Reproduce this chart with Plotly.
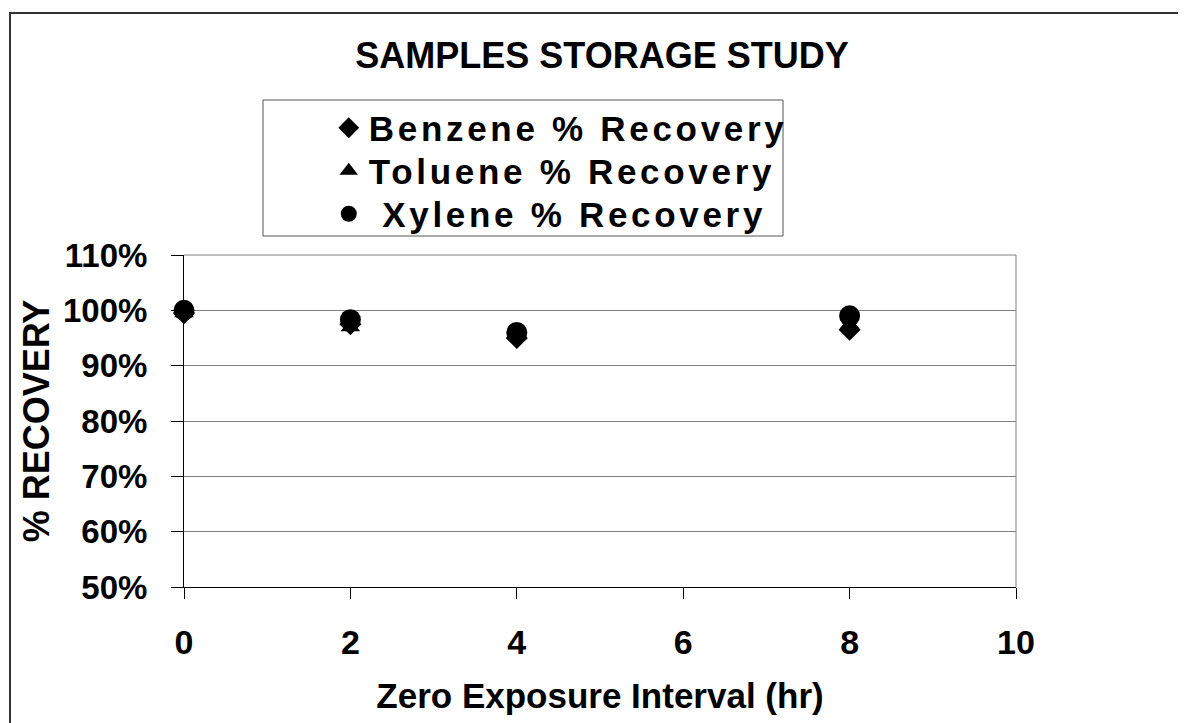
import plotly.graph_objects as go

hours = [0, 2, 4, 8]
benzene = [99.5, 97.5, 95.0, 96.5]
toluene = [99.5, 97.0, 95.5, 97.5]
xylene = [100.0, 98.3, 96.0, 99.0]

x_ticks = [0, 2, 4, 6, 8, 10]
y_ticks = [50, 60, 70, 80, 90, 100, 110]

series_names = ["Benzene % Recovery", "Toluene % Recovery", "\u00a0Xylene % Recovery"]

FONT = "Liberation Sans, Arial, sans-serif"

def legend_label(s):
    return f'<span style="letter-spacing:3.7px"><b>{s}</b></span>'

fig = go.Figure()
fig.add_trace(go.Scatter(x=hours, y=benzene, mode="markers", name=legend_label(series_names[0]),
                         cliponaxis=False, legend="legend",
                         marker=dict(symbol="diamond", size=17, color="black")))
fig.add_trace(go.Scatter(x=hours, y=toluene, mode="markers", name=legend_label(series_names[1]),
                         cliponaxis=False, legend="legend2",
                         marker=dict(symbol="triangle-up", size=17, color="black")))
fig.add_trace(go.Scatter(x=hours, y=xylene, mode="markers", name=legend_label(series_names[2]),
                         cliponaxis=False, legend="legend3",
                         marker=dict(symbol="circle", size=21, color="black")))

def leg(ycenter_px):
    return dict(x=0.174, y=(587 - ycenter_px) / 332, xanchor="left", yanchor="middle",
                borderwidth=0, bgcolor="rgba(0,0,0,0)",
                font=dict(size=35, family=FONT, color="black"),
                itemsizing="trace")

fig.update_layout(
    width=1186, height=723,
    margin=dict(l=176, r=178, t=247, b=144),
    paper_bgcolor="white", plot_bgcolor="white",
    font=dict(family=FONT, color="black"),
    title=dict(text="<b>SAMPLES STORAGE STUDY</b>", x=594 / 1186, xref="container",
               y=1 - 47 / 723, yref="container", xanchor="center", yanchor="middle",
               font=dict(size=36, family=FONT, color="black")),
    showlegend=True,
    legend=leg(128),
    legend2=leg(171),
    legend3=leg(214),
    xaxis=dict(range=[0, 10], tickvals=x_ticks, ticktext=[f"<b>{v}</b>" for v in x_ticks],
               ticks="outside", ticklen=11, ticklabelstandoff=14,
               tickcolor="black", showline=True, linecolor="black", linewidth=1,
               showgrid=False, zeroline=False,
               tickfont=dict(size=34, family=FONT, color="black"),
               title=dict(text="<b>Zero Exposure Interval (hr)</b>", standoff=23,
                          font=dict(size=35, family=FONT, color="black"))),
    yaxis=dict(range=[50, 110], tickvals=y_ticks, ticktext=[f"<b>{v}%</b>" for v in y_ticks],
               ticks="outside", ticklen=12, ticklabelstandoff=17,
               tickcolor="black", showline=True, linecolor="black",
               linewidth=1, showgrid=True, gridcolor="#808080", gridwidth=1,
               zeroline=False,
               tickfont=dict(size=33, family=FONT, color="black"),
               title=dict(text="<b>% RECOVERY</b>", standoff=2,
                          font=dict(size=36, family=FONT, color="black"))),
)

# gray right/top frame of plot area
fig.add_shape(type="line", xref="paper", yref="paper", x0=0, x1=1, y0=1, y1=1,
              line=dict(color="#808080", width=1))
fig.add_shape(type="line", xref="paper", yref="paper", x0=1, x1=1, y0=0, y1=1,
              line=dict(color="#808080", width=1))
# legend frame
fig.add_shape(type="rect", xref="paper", yref="paper",
              x0=(263 - 184) / 832, x1=(783 - 184) / 832,
              y0=(587 - 236) / 332, y1=(587 - 100) / 332,
              line=dict(color="#555555", width=1), layer="below")
# outer chart border
fig.add_shape(type="rect", xref="paper", yref="paper",
              x0=(2 - 176) / 832, x1=1.5, y0=-0.8, y1=(247 + 332 - 5) / 332,
              line=dict(color="#333333", width=2), layer="below")

fig.write_html("out.html")
